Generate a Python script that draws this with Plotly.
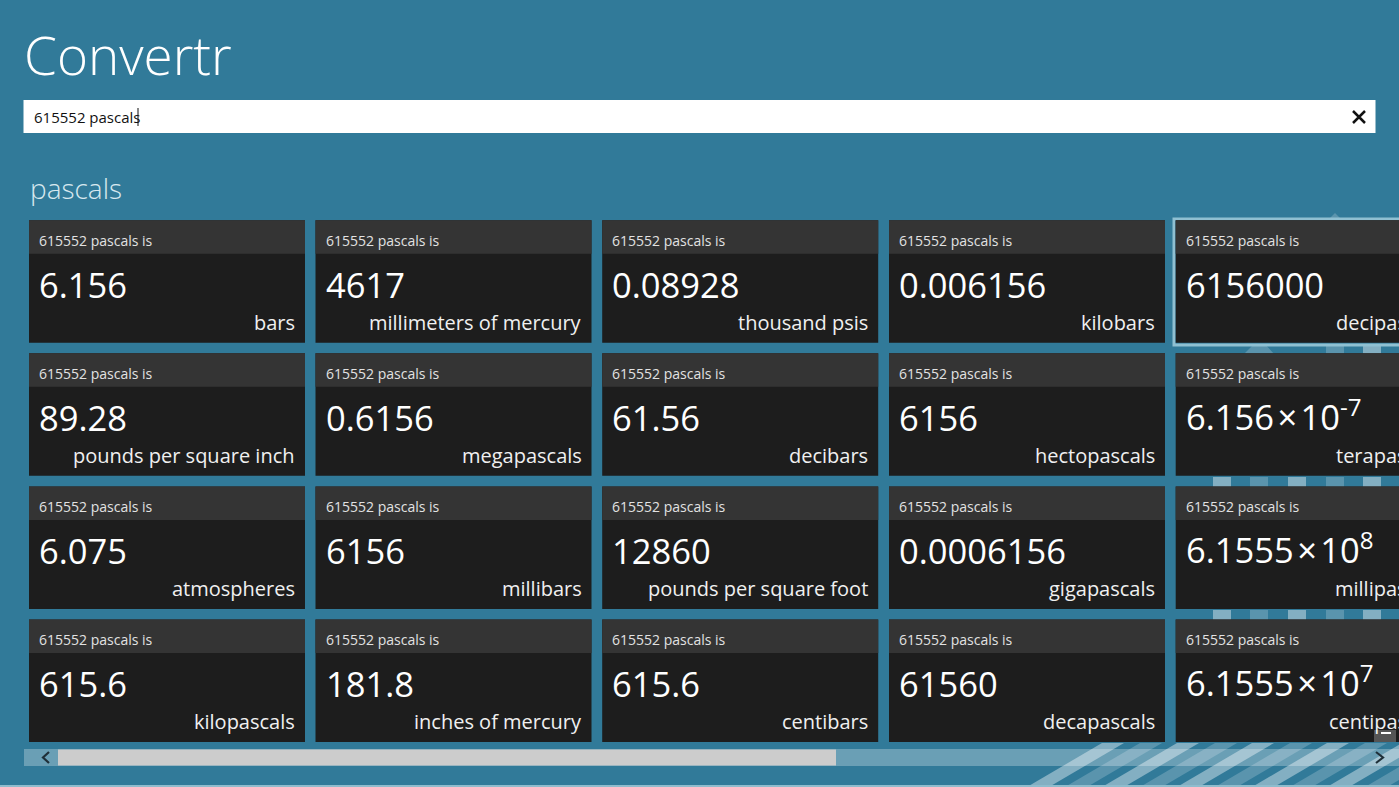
"""
Convertr unit tiles, drawn as a Plotly figure
"""
import plotly.graph_objects as go

W, H = 1399, 787

# ── Tile contents ─────────────────────────────────────────────────────────────
header = '615552 pascals is'
query = '615552 pascals'
app_title = 'Convertr'
group_title = 'pascals'

values_row1 = ['6.156', '4617', '0.08928', '0.006156', '6156000']
values_row2 = ['89.28', '0.6156', '61.56', '6156', '6.156\u200a×\u200a10<sup>-7</sup>']
values_row3 = ['6.075', '6156', '12860', '0.0006156', '6.1555\u200a×\u200a10<sup>8</sup>']
values_row4 = ['615.6', '181.8', '615.6', '61560', '6.1555\u200a×\u200a10<sup>7</sup>']

units_row1 = ['bars', 'millimeters of mercury', 'thousand psis', 'kilobars', 'decipascals']
units_row2 = ['pounds per square inch', 'megapascals', 'decibars', 'hectopascals', 'terapascals']
units_row3 = ['atmospheres', 'millibars', 'pounds per square foot', 'gigapascals', 'millipascals']
units_row4 = ['kilopascals', 'inches of mercury', 'centibars', 'decapascals', 'centipascals']

values = [values_row1, values_row2, values_row3, values_row4]
units = [units_row1, units_row2, units_row3, units_row4]

tile_x = [29, 315.5, 602.2, 889, 1175.7]
tile_y = [220.3, 353.3, 486.5, 619.5]

BG = '#317a99'
TILE = '#1d1d1d'
HEAD = '#343434'
FONT = 'Open Sans'

shapes = []
annotations = []


def rect(x0, y0, x1, y1, fill, line=None, width=0):
    shapes.append(dict(type='rect', x0=x0, x1=x1, y0=y0, y1=y1, xref='x', yref='y', layer='below',
                       fillcolor=fill, line=dict(color=line, width=width) if line else dict(width=0)))


def path(d, fill):
    shapes.append(dict(type='path', path=d, xref='x', yref='y', layer='below',
                       fillcolor=fill, line=dict(width=0)))


def stroke(d, color, width):
    shapes.append(dict(type='path', path=d, xref='x', yref='y', layer='below',
                       fillcolor='rgba(0,0,0,0)', line=dict(color=color, width=width)))


def text(x, y, s, size, color='#ffffff', anchor='left', weight=400):
    annotations.append(dict(x=x / W, y=1 - y / H, xref='paper', yref='paper', text=s, showarrow=False,
                            xanchor=anchor, yanchor='middle', align=anchor, borderpad=0, borderwidth=0,
                            font=dict(family=FONT, size=size, color=color, weight=weight)))


# ── Background stripes ────────────────────────────────────────────────────────
stripe_a = 'rgba(255,255,255,0.20)'
stripe_b = 'rgba(255,255,255,0.40)'
for x0 in [1213, 1288, 1363]:
    rect(x0, 477, x0 + 18, 487, stripe_b)
    rect(x0, 610, x0 + 18, 620, stripe_b)
for x0 in [1250, 1326]:
    rect(x0, 477, x0 + 18, 487, stripe_a)
    rect(x0, 610, x0 + 18, 620, stripe_a)
rect(1326, 344, 1344, 354, stripe_a)
rect(1363, 344, 1381, 354, stripe_b)
path('M1244,354 L1274,354 L1265,344 L1254,344 Z', stripe_a)
path('M1330,218 L1340,218 L1335,213 Z', stripe_a)

# diagonal bands under the tiles
for x0, shade in [(1027, stripe_b), (1065, stripe_a), (1102, stripe_b), (1140, stripe_a), (1177, stripe_b),
                  (1215, stripe_a), (1252, stripe_b), (1290, stripe_a), (1327, stripe_b), (1365, stripe_a)]:
    path(f'M{x0},787 L{x0 + 22},787 L{x0 + 97},743 L{x0 + 75},743 Z', shade)

# ── Header and search box ─────────────────────────────────────────────────────
text(24, 54.5, app_title, 53, weight=300)
rect(23.5, 100, 1375.5, 133, '#ffffff')
text(33.5, 117, query, 15, color='#111111')
rect(137.5, 108, 138.5, 126, '#111111')
stroke('M1353,111 L1365,123 M1365,111 L1353,123', '#111111', 2.5)
text(30, 188, group_title, 28, color='#d7e8ef', weight=300)

# ── Tiles ─────────────────────────────────────────────────────────────────────
rect(1174, 219, 1410, 345, BG, line='#8fc0d2', width=3)
for r, y0 in enumerate(tile_y):
    for c, x0 in enumerate(tile_x):
        rect(x0, y0, x0 + 276, y0 + 122.5, TILE)
        rect(x0, y0, x0 + 276, y0 + 33.5, HEAD)
        text(x0 + 10, y0 + 20, header, 14, color='#e2e2e2')
        # superscripts make the text box taller, so it sits a little lower
        lift = 2 if '<sup>' in values[r][c] else 0
        text(x0 + 10, y0 + 63.7 - lift, values[r][c], 34.5)
        text(x0 + 266, y0 + 101.7, units[r][c], 20, color='#f0f0f0', anchor='right')

# ── Scroll bar ────────────────────────────────────────────────────────────────
rect(24, 749, W, 766, 'rgba(255,255,255,0.28)')
rect(58, 749.5, 836, 765.5, '#cccccc')
stroke('M49,752 L43,757.5 L49,763', '#1f2f38', 2.2)
stroke('M1376,752 L1383,757.5 L1376,763', '#1f2f38', 2.2)
rect(1374, 730, 1396, 742, '#555555')
rect(1381, 732, 1391, 734, '#ffffff')
rect(0, 785, W, 787, '#8fbccd')

fig = go.Figure()
fig.update_layout(
    width=W, height=H, margin=dict(l=0, r=0, t=0, b=0, pad=0),
    paper_bgcolor=BG, plot_bgcolor=BG, showlegend=False,
    xaxis=dict(range=[0, W], visible=False, fixedrange=True),
    yaxis=dict(range=[H, 0], visible=False, fixedrange=True),
    shapes=shapes, annotations=annotations,
)
fig.write_html('out.html', config={'displayModeBar': False},
               post_script="document.body.style.margin='0';document.body.style.overflow='hidden';")
